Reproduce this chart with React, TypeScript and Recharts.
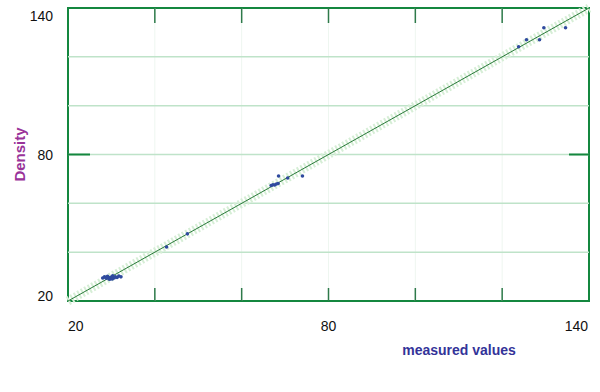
import React from 'react';
import { ScatterChart, Scatter, XAxis, YAxis, ReferenceLine, ReferenceArea, Label } from 'recharts';

const measured = [
  28.0, 28.4, 28.8, 29.1, 29.4, 29.7, 30.0, 30.3, 30.6, 30.9, 31.3, 31.7, 32.2, 29.5, 30.2,
  42.7, 47.5,
  66.8, 67.2, 67.6, 68.0, 68.4, 68.5, 70.6, 74.0,
  123.8, 125.6, 128.6, 129.6, 134.6,
];
const density = [
  29.4, 29.9, 29.3, 30.1, 29.6, 29.0, 29.8, 30.3, 29.4, 29.9, 29.6, 30.2, 29.9, 28.9, 29.0,
  42.1, 47.5,
  67.3, 67.6, 67.5, 67.9, 68.1, 71.2, 70.4, 71.2,
  124.1, 127.0, 127.0, 131.9, 131.9,
];
const labelTicks = [20, 80, 140];
const innerTicks = [40, 60, 80, 100, 120];
const sideTicks = [80];
const gridValues = [40, 60, 80, 100, 120];
const domainMin = 20;
const domainMax = 140;

const points = measured.map((x, i) => ({ x, y: density[i] }));

const GREEN = '#14873f';
const TICKGREEN = '#2e7a4a';

const YTick = (props: any) => {
  const v = props.payload.value;
  const shift = v === domainMax ? 7 : v === domainMin ? -5 : 0;
  return (
    <text x={props.x} y={props.y + shift} dy={5} textAnchor="end" fontSize={14} fontFamily="Liberation Sans, Arial, sans-serif" fill="#111">
      {v}
    </text>
  );
};

const XTick = (props: any) => {
  const v = props.payload.value;
  const anchor = v === domainMin ? 'start' : v === domainMax ? 'end' : 'middle';
  return (
    <text x={props.x} y={props.y} dy={10} textAnchor={anchor} fontSize={14} fontFamily="Liberation Sans, Arial, sans-serif" fill="#111">
      {v}
    </text>
  );
};

const VerticalGridWithTicks = (p: any) => {
  const top = Math.min(p.y1, p.y2);
  const bottom = Math.max(p.y1, p.y2);
  const x = p.x1;
  return (
    <g>
      <line x1={x} y1={top} x2={x} y2={bottom} stroke="#eef6f0" strokeWidth={1} />
      <line x1={x} y1={top} x2={x} y2={top + 15} stroke={TICKGREEN} strokeWidth={1.5} />
      <line x1={x} y1={bottom - 13} x2={x} y2={bottom} stroke={TICKGREEN} strokeWidth={1.5} />
    </g>
  );
};

const HorizontalSideTicks = (p: any) => {
  const left = Math.min(p.x1, p.x2);
  const right = Math.max(p.x1, p.x2);
  const y = p.y1;
  return (
    <g>
      <line x1={left} y1={y} x2={left + 22} y2={y} stroke={GREEN} strokeWidth={2} />
      <line x1={right - 20} y1={y} x2={right} y2={y} stroke={GREEN} strokeWidth={2} />
    </g>
  );
};

const Dot = (props: any) => <circle cx={props.cx} cy={props.cy} r={1.8} fill="#2f4a9e" />;

export default function App() {
  return (
    <div style={{ position: 'absolute', left: 0, top: 0 }}>
      <ScatterChart width={600} height={392} margin={{ top: 8, right: 11, left: 0, bottom: 0 }}>
        <XAxis
          type="number"
          dataKey="x"
          domain={[domainMin, domainMax]}
          ticks={labelTicks}
          tick={XTick}
          tickLine={false}
          axisLine={false}
          tickSize={0}
          tickMargin={20}
          height={91}
          allowDataOverflow
        >
          <Label
            content={(p: any) => (
              <text
                x={p.viewBox.x + 391}
                y={p.viewBox.y + 54}
                textAnchor="middle"
                fontSize={14}
                fontWeight="bold"
                fontFamily="Liberation Sans, Arial, sans-serif"
                fill="#333399"
              >
                measured values
              </text>
            )}
          />
        </XAxis>
        <YAxis
          type="number"
          dataKey="y"
          domain={[domainMin, domainMax]}
          ticks={labelTicks}
          tick={YTick}
          tickLine={false}
          axisLine={false}
          tickSize={0}
          tickMargin={15}
          width={68}
          allowDataOverflow
        >
          <Label
            content={(p: any) => {
              const cx = p.viewBox.x + 20;
              const cy = p.viewBox.y + p.viewBox.height / 2;
              return (
                <text
                  x={cx}
                  y={cy}
                  dy={5}
                  transform={`rotate(-90 ${cx} ${cy})`}
                  textAnchor="middle"
                  fontSize={15}
                  fontWeight="bold"
                  fontFamily="Liberation Sans, Arial, sans-serif"
                  fill="#993399"
                >
                  Density
                </text>
              );
            }}
          />
        </YAxis>
        {innerTicks.map((v) => (
          <ReferenceLine key={`v${v}`} x={v} shape={VerticalGridWithTicks} />
        ))}
        {gridValues.map((v) => (
          <ReferenceLine key={`h${v}`} y={v} stroke="#bfe3c9" strokeWidth={1.5} />
        ))}
        {sideTicks.map((v) => (
          <ReferenceLine key={`s${v}`} y={v} shape={HorizontalSideTicks} />
        ))}
        <ReferenceLine
          segment={[{ x: domainMin, y: domainMin }, { x: domainMax, y: domainMax }]}
          stroke="#d6eed6"
          strokeWidth={9}
          strokeDasharray="2 2"
        />
        <ReferenceLine
          segment={[{ x: domainMin, y: domainMin }, { x: domainMax, y: domainMax }]}
          stroke="#2a7a3a"
          strokeWidth={1}
        />
        <ReferenceArea
          x1={domainMin}
          x2={domainMax}
          y1={domainMin}
          y2={domainMax}
          fill="none"
          fillOpacity={0}
          stroke={GREEN}
          strokeWidth={2}
        />
        <Scatter data={points} shape={Dot} isAnimationActive={false} />
      </ScatterChart>
    </div>
  );
}
